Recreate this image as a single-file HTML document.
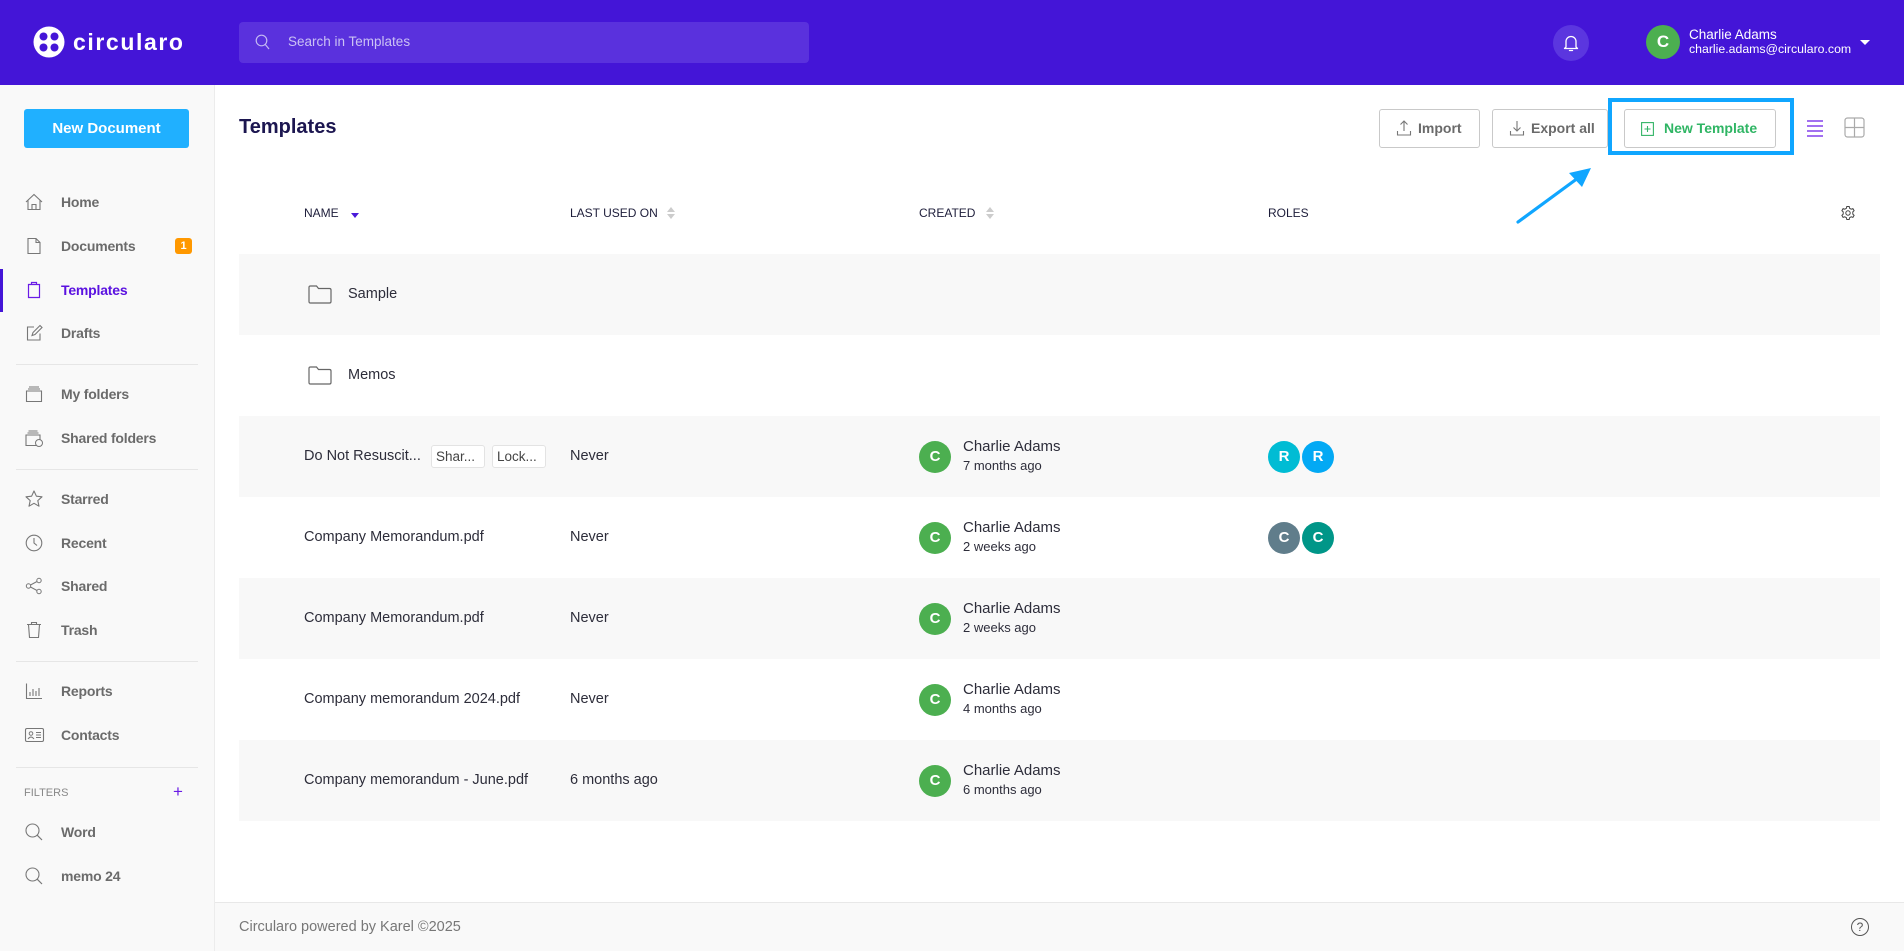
<!DOCTYPE html>
<html><head><meta charset="utf-8">
<style>
*{box-sizing:border-box;margin:0;padding:0}
body{width:1904px;height:951px;overflow:hidden;background:#fff;font-family:"Liberation Sans",Arial,sans-serif;position:relative;color:#333}
.a{position:absolute}
.t{position:absolute;white-space:nowrap;height:20px;line-height:20px}
.nav{position:absolute;left:61px;font-size:14px;font-weight:bold;color:#6b6b6b;height:20px;line-height:20px;letter-spacing:-0.2px;white-space:nowrap}
.ic{position:absolute;left:24px;width:20px;height:20px}
.div{position:absolute;left:16px;width:182px;height:1px;background:#e6e6e6}
.row{position:absolute;left:239px;width:1641px;height:81px}
.g{background:#f8f8f8}
.rt{position:absolute;font-size:14.5px;color:#2d2d3a;white-space:nowrap;height:20px;line-height:20px}
.av{position:absolute;width:32px;height:32px;border-radius:50%;color:#fff;font-weight:bold;font-size:15px;text-align:center;line-height:32px}
.btn{position:absolute;top:109px;height:39px;border:1px solid #c9c9c9;border-radius:3px;background:#fff}
.btxt{position:absolute;top:9px;font-size:14px;font-weight:bold;color:#6a6a6a;line-height:20px;white-space:nowrap}
.th{position:absolute;top:204px;font-size:12px;color:#1d1d3a;line-height:18px;white-space:nowrap}
.chip{position:absolute;height:23px;border:1px solid #e3e3e3;background:#fff;border-radius:3px;font-size:13.5px;color:#444;line-height:21px;padding-left:4px;white-space:nowrap;overflow:hidden}
</style></head><body>

<!-- HEADER -->
<div class="a" style="left:0;top:0;width:1904px;height:85px;background:#4415d7"></div>
<svg class="a" style="left:33px;top:26px" width="32" height="32" viewBox="0 0 32 32">
<circle cx="16" cy="16" r="15.5" fill="#fff"/>
<circle cx="10.5" cy="10.5" r="4" fill="#4415d7"/><circle cx="21.5" cy="10.5" r="4" fill="#4415d7"/>
<circle cx="10.5" cy="21.5" r="4" fill="#4415d7"/><circle cx="21.5" cy="21.5" r="4" fill="#4415d7"/>
<rect x="13.5" y="13.5" width="5" height="5" transform="rotate(45 16 16)" fill="#fff"/>
</svg>
<div class="t" style="left:73px;top:27px;height:30px;line-height:30px;font-size:23px;font-weight:bold;color:#fff;letter-spacing:1.6px">circularo</div>

<div class="a" style="left:239px;top:22px;width:570px;height:41px;background:#5a31dd;border-radius:4px"></div>
<svg class="a" style="left:255px;top:34px" width="16" height="17" viewBox="0 0 16 17"><circle cx="6.5" cy="6.5" r="5.3" fill="none" stroke="#c3b8f2" stroke-width="1.2"/><line x1="10.3" y1="10.5" x2="14" y2="15" stroke="#c3b8f2" stroke-width="1.2"/></svg>
<div class="t" style="left:288px;top:32px;font-size:13.5px;color:#cbc2f4">Search in Templates</div>

<div class="a" style="left:1553px;top:25px;width:36px;height:36px;border-radius:50%;background:#5b36df"></div>
<svg class="a" style="left:1562px;top:33px" width="18" height="20" viewBox="0 0 18 20"><path d="M4 14 V8.5 a5 5 0 0 1 10 0 V14 l1.5 1.5 H2.5 Z" fill="none" stroke="#fff" stroke-width="1.3" stroke-linejoin="round"/><path d="M7.5 17.5 h3" stroke="#fff" stroke-width="1.3" stroke-linecap="round"/></svg>

<div class="av" style="left:1646px;top:25px;width:34px;height:34px;line-height:34px;background:#4caf50;font-size:17px">C</div>
<div class="t" style="left:1689px;top:26px;font-size:13.5px;color:#fff;height:17px;line-height:17px">Charlie Adams</div>
<div class="t" style="left:1689px;top:41px;font-size:12.3px;color:#fff;height:17px;line-height:17px">charlie.adams@circularo.com</div>
<div class="a" style="left:1860px;top:40px;width:0;height:0;border-left:5px solid transparent;border-right:5px solid transparent;border-top:5px solid #fff"></div>

<!-- SIDEBAR -->
<div class="a" style="left:0;top:85px;width:215px;height:866px;background:#f9f9f9;border-right:1px solid #ececec"></div>
<div class="a" style="left:24px;top:109px;width:165px;height:39px;background:#20b0ff;border-radius:3px;color:#fff;font-weight:bold;font-size:15px;text-align:center;line-height:39px">New Document</div>

<div class="a" style="left:0;top:269px;width:3px;height:43px;background:#4415d7"></div>

<svg class="ic" style="top:192px" viewBox="0 0 20 20"><path d="M2 10 L10 2.5 L18 10 M4 8.5 V17.5 H16 V8.5 M8 17.5 V12.5 H12 V17.5" fill="none" stroke="#777" stroke-width="1.1"/></svg>
<div class="nav" style="top:192px">Home</div>
<svg class="ic" style="top:236px" viewBox="0 0 20 20"><path d="M4 2.5 H12 L16 6.5 V17.5 H4 Z M12 2.5 V6.5 H16" fill="none" stroke="#777" stroke-width="1.1"/></svg>
<div class="nav" style="top:236px">Documents</div>
<div class="a" style="left:175px;top:238px;width:17px;height:16px;background:#ff9800;border-radius:3px;color:#fff;font-size:11px;text-align:center;line-height:16px;font-weight:bold">1</div>
<svg class="ic" style="top:280px" viewBox="0 0 20 20"><path d="M4.5 4.5 H15.5 V17.5 H4.5 Z M7.5 4.5 V2.5 H12.5 V4.5" fill="none" stroke="#6a1be6" stroke-width="1.2"/></svg>
<div class="nav" style="top:280px;color:#5b12e0">Templates</div>
<svg class="ic" style="top:323px" viewBox="0 0 20 20"><path d="M10 4 H3.5 V17 H16 V10.5 M8 12.5 L9 9.5 L16 2.5 L18 4.5 L11 11.5 Z" fill="none" stroke="#777" stroke-width="1.1"/></svg>
<div class="nav" style="top:323px">Drafts</div>
<div class="div" style="top:364px"></div>
<svg class="ic" style="top:384px" viewBox="0 0 20 20"><path d="M2.5 7 H17.5 V17.5 H2.5 Z M4 5 H16 M5 3 H15" fill="none" stroke="#777" stroke-width="1.1"/></svg>
<div class="nav" style="top:384px">My folders</div>
<svg class="ic" style="top:428px" viewBox="0 0 20 20"><path d="M2 7 H16 V17.5 H2 Z M3.5 5 H14.5 M4.5 3 H13.5" fill="none" stroke="#777" stroke-width="1.1"/><circle cx="15" cy="15" r="3.5" fill="#f9f9f9" stroke="#777" stroke-width="1"/></svg>
<div class="nav" style="top:428px">Shared folders</div>
<div class="div" style="top:469px"></div>
<svg class="ic" style="top:489px" viewBox="0 0 20 20"><path d="M10 2 L12.4 7.2 L18 7.8 L13.8 11.6 L15 17.2 L10 14.3 L5 17.2 L6.2 11.6 L2 7.8 L7.6 7.2 Z" fill="none" stroke="#777" stroke-width="1.1" stroke-linejoin="round"/></svg>
<div class="nav" style="top:489px">Starred</div>
<svg class="ic" style="top:533px" viewBox="0 0 20 20"><circle cx="10" cy="10" r="7.8" fill="none" stroke="#777" stroke-width="1.1"/><path d="M10 5 V10 L13 12.5" fill="none" stroke="#777" stroke-width="1.1"/></svg>
<div class="nav" style="top:533px">Recent</div>
<svg class="ic" style="top:576px" viewBox="0 0 20 20"><circle cx="15" cy="4.5" r="2.2" fill="none" stroke="#777"/><circle cx="4.5" cy="10" r="2.2" fill="none" stroke="#777"/><circle cx="15" cy="15.5" r="2.2" fill="none" stroke="#777"/><path d="M6.5 9 L13 5.5 M6.5 11 L13 14.5" stroke="#777"/></svg>
<div class="nav" style="top:576px">Shared</div>
<svg class="ic" style="top:620px" viewBox="0 0 20 20"><path d="M3 4.5 H17 M7.5 4.5 V2.5 H12.5 V4.5 M4.5 4.5 L5.5 17.5 H14.5 L15.5 4.5" fill="none" stroke="#777" stroke-width="1.1"/></svg>
<div class="nav" style="top:620px">Trash</div>
<div class="div" style="top:661px"></div>
<svg class="ic" style="top:681px" viewBox="0 0 20 20"><path d="M2.5 2.5 V17.5 H18 M6 15 V11 M9 15 V8 M12 15 V10 M15 15 V7" fill="none" stroke="#777" stroke-width="1.1"/></svg>
<div class="nav" style="top:681px">Reports</div>
<svg class="ic" style="top:725px;width:21px" viewBox="0 0 21 20"><rect x="1.5" y="3.5" width="18" height="13" rx="1.5" fill="none" stroke="#777" stroke-width="1.1"/><circle cx="7" cy="8.5" r="1.8" fill="none" stroke="#777"/><path d="M4 14 Q7 10 10 14 M12 7.5 H17 M12 10 H17 M12 12.5 H17" fill="none" stroke="#777"/></svg>
<div class="nav" style="top:725px">Contacts</div>
<div class="div" style="top:767px"></div>
<div class="t" style="left:24px;top:783px;font-size:11px;color:#888">FILTERS</div>
<div class="t" style="left:173px;top:782px;font-size:17px;color:#6a1be6">+</div>
<svg class="ic" style="top:822px" viewBox="0 0 20 20"><circle cx="8.5" cy="8.5" r="6.5" fill="none" stroke="#777" stroke-width="1.1"/><line x1="13.2" y1="13.2" x2="18" y2="18" stroke="#777" stroke-width="1.2"/></svg>
<div class="nav" style="top:822px">Word</div>
<svg class="ic" style="top:866px" viewBox="0 0 20 20"><circle cx="8.5" cy="8.5" r="6.5" fill="none" stroke="#777" stroke-width="1.1"/><line x1="13.2" y1="13.2" x2="18" y2="18" stroke="#777" stroke-width="1.2"/></svg>
<div class="nav" style="top:866px">memo 24</div>

<!-- MAIN HEADER -->
<div class="t" style="left:239px;top:115px;height:24px;line-height:24px;font-size:20px;font-weight:bold;color:#1c1650">Templates</div>

<div class="btn" style="left:1379px;width:101px"></div>
<svg class="a" style="left:1396px;top:119px" width="16" height="18" viewBox="0 0 16 18"><path d="M8 12 V2 M4.5 5.5 L8 2 L11.5 5.5 M1.5 12 V16 H14.5 V12" fill="none" stroke="#777" stroke-width="1.1"/></svg>
<div class="btxt" style="left:1418px;top:118px">Import</div>
<div class="btn" style="left:1492px;width:116px"></div>
<svg class="a" style="left:1509px;top:119px" width="16" height="18" viewBox="0 0 16 18"><path d="M8 2 V12 M4.5 8.5 L8 12 L11.5 8.5 M1.5 12 V16 H14.5 V12" fill="none" stroke="#777" stroke-width="1.1"/></svg>
<div class="btxt" style="left:1531px;top:118px">Export all</div>
<div class="btn" style="left:1624px;width:152px"></div>
<svg class="a" style="left:1641px;top:122px" width="13" height="14" viewBox="0 0 13 14"><rect x="0.6" y="0.6" width="11.8" height="12.8" fill="none" stroke="#33b566" stroke-width="1.1"/><path d="M6.5 4 V10 M3.5 7 H9.5" stroke="#33b566" stroke-width="1.1"/></svg>
<div class="btxt" style="left:1664px;top:118px;color:#2fb564">New Template</div>
<div class="a" style="left:1608px;top:98px;width:186px;height:57px;border:4px solid #10a6ff"></div>

<svg class="a" style="left:1806px;top:119px" width="18" height="19" viewBox="0 0 18 19"><path d="M1 2 H17 M1 7 H17 M1 12 H17 M1 17 H17" stroke="#6a1be6" stroke-width="1.3"/></svg>
<svg class="a" style="left:1844px;top:117px" width="21" height="21" viewBox="0 0 21 21"><rect x="1" y="1" width="19" height="19" rx="2.5" fill="none" stroke="#aaa" stroke-width="1.2"/><path d="M10.5 1 V20 M1 10.5 H20" stroke="#aaa" stroke-width="1.2"/></svg>

<svg class="a" style="left:0;top:0" width="1904" height="951" viewBox="0 0 1904 951">
<line x1="1518" y1="222" x2="1578" y2="178" stroke="#10a6ff" stroke-width="3.2" stroke-linecap="round"/>
<polygon points="1591,168 1569,173 1582,187" fill="#10a6ff"/>
</svg>

<!-- TABLE HEADER -->
<div class="th" style="left:304px">NAME</div>
<div class="a" style="left:351px;top:213px;width:0;height:0;border-left:4.5px solid transparent;border-right:4.5px solid transparent;border-top:5px solid #4a1ad9"></div>
<div class="th" style="left:570px">LAST USED ON</div>
<div class="a" style="left:667px;top:207px;width:0;height:0;border-left:4px solid transparent;border-right:4px solid transparent;border-bottom:5px solid #ccc"></div>
<div class="a" style="left:667px;top:214px;width:0;height:0;border-left:4px solid transparent;border-right:4px solid transparent;border-top:5px solid #ccc"></div>
<div class="th" style="left:919px">CREATED</div>
<div class="a" style="left:986px;top:207px;width:0;height:0;border-left:4px solid transparent;border-right:4px solid transparent;border-bottom:5px solid #ccc"></div>
<div class="a" style="left:986px;top:214px;width:0;height:0;border-left:4px solid transparent;border-right:4px solid transparent;border-top:5px solid #ccc"></div>
<div class="th" style="left:1268px">ROLES</div>
<svg class="a" style="left:1840px;top:205px" width="16" height="16" viewBox="0 0 16 16"><path d="M6.8 1.5 H9.2 L9.6 3.3 L11.2 4.2 L12.9 3.6 L14.1 5.7 L12.8 6.9 V9.1 L14.1 10.3 L12.9 12.4 L11.2 11.8 L9.6 12.7 L9.2 14.5 H6.8 L6.4 12.7 L4.8 11.8 L3.1 12.4 L1.9 10.3 L3.2 9.1 V6.9 L1.9 5.7 L3.1 3.6 L4.8 4.2 L6.4 3.3 Z" fill="none" stroke="#444" stroke-width="1"/><circle cx="8" cy="8" r="2.2" fill="none" stroke="#444"/></svg>

<!-- ROWS -->
<div class="row g" style="top:254px"></div>
<div class="row" style="top:335px"></div>
<div class="row g" style="top:416px"></div>
<div class="row" style="top:497px"></div>
<div class="row g" style="top:578px"></div>
<div class="row" style="top:659px"></div>
<div class="row g" style="top:740px"></div>

<!-- row1 -->
<svg class="a" style="left:308px;top:285px" width="24" height="19" viewBox="0 0 24 19"><path d="M1 2.5 Q1 1 2.5 1 H8.5 L10.5 3.5 H21.5 Q23 3.5 23 5 V16.5 Q23 18 21.5 18 H2.5 Q1 18 1 16.5 Z" fill="none" stroke="#666" stroke-width="1.2"/></svg>
<div class="rt" style="left:348px;top:284px">Sample</div>
<!-- row2 -->
<svg class="a" style="left:308px;top:366px" width="24" height="19" viewBox="0 0 24 19"><path d="M1 2.5 Q1 1 2.5 1 H8.5 L10.5 3.5 H21.5 Q23 3.5 23 5 V16.5 Q23 18 21.5 18 H2.5 Q1 18 1 16.5 Z" fill="none" stroke="#666" stroke-width="1.2"/></svg>
<div class="rt" style="left:348px;top:365px">Memos</div>
<!-- row3 -->
<div class="rt" style="left:304px;top:446px">Do Not Resuscit...</div>
<div class="chip" style="left:431px;top:445px;width:54px">Shar...</div>
<div class="chip" style="left:492px;top:445px;width:54px">Lock...</div>
<div class="rt" style="left:570px;top:446px">Never</div>
<div class="av" style="left:919px;top:441px;background:#4caf50">C</div>
<div class="rt" style="left:963px;top:437px;font-size:15px">Charlie Adams</div>
<div class="rt" style="left:963px;top:456px;font-size:13px">7 months ago</div>
<div class="av" style="left:1268px;top:441px;background:#00bcd4">R</div>
<div class="av" style="left:1302px;top:441px;background:#03a9f4">R</div>
<!-- row4 -->
<div class="rt" style="left:304px;top:527px">Company Memorandum.pdf</div>
<div class="rt" style="left:570px;top:527px">Never</div>
<div class="av" style="left:919px;top:522px;background:#4caf50">C</div>
<div class="rt" style="left:963px;top:518px;font-size:15px">Charlie Adams</div>
<div class="rt" style="left:963px;top:537px;font-size:13px">2 weeks ago</div>
<div class="av" style="left:1268px;top:522px;background:#607d8b">C</div>
<div class="av" style="left:1302px;top:522px;background:#009688">C</div>
<!-- row5 -->
<div class="rt" style="left:304px;top:608px">Company Memorandum.pdf</div>
<div class="rt" style="left:570px;top:608px">Never</div>
<div class="av" style="left:919px;top:603px;background:#4caf50">C</div>
<div class="rt" style="left:963px;top:599px;font-size:15px">Charlie Adams</div>
<div class="rt" style="left:963px;top:618px;font-size:13px">2 weeks ago</div>
<!-- row6 -->
<div class="rt" style="left:304px;top:689px">Company memorandum 2024.pdf</div>
<div class="rt" style="left:570px;top:689px">Never</div>
<div class="av" style="left:919px;top:684px;background:#4caf50">C</div>
<div class="rt" style="left:963px;top:680px;font-size:15px">Charlie Adams</div>
<div class="rt" style="left:963px;top:699px;font-size:13px">4 months ago</div>
<!-- row7 -->
<div class="rt" style="left:304px;top:770px">Company memorandum - June.pdf</div>
<div class="rt" style="left:570px;top:770px">6 months ago</div>
<div class="av" style="left:919px;top:765px;background:#4caf50">C</div>
<div class="rt" style="left:963px;top:761px;font-size:15px">Charlie Adams</div>
<div class="rt" style="left:963px;top:780px;font-size:13px">6 months ago</div>

<!-- FOOTER -->
<div class="a" style="left:215px;top:902px;width:1689px;height:49px;background:#f9f9f9;border-top:1px solid #e8e8e8"></div>
<div class="t" style="left:239px;top:917px;font-size:14.5px;color:#777">Circularo powered by Karel ©2025</div>
<div class="a" style="left:1851px;top:918px;width:18px;height:18px;border:1.3px solid #555;border-radius:50%;font-size:12px;color:#555;text-align:center;line-height:16px">?</div>

</body></html>
